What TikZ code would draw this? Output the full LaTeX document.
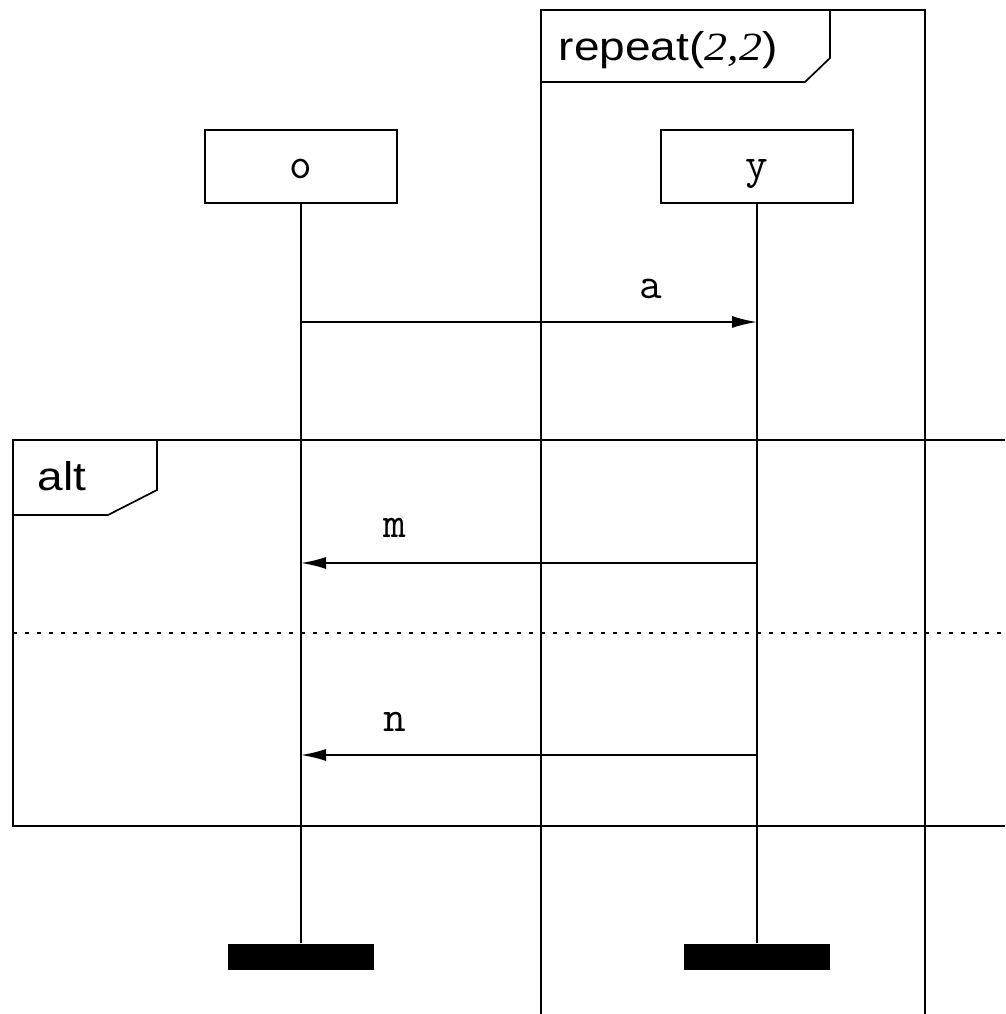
\documentclass[tikz,border=0pt]{standalone}
\usepackage{fontspec}
\usetikzlibrary{arrows.meta}
\newfontfamily\lblsans[FakeStretch=1.15]{Liberation Sans}
\newfontfamily\lblserif[FakeStretch=1.15]{Liberation Serif}
\tikzset{
  every picture/.style={line width=1.7pt},
  head/.style={draw, line width=1.7pt, minimum width=192pt, minimum height=73pt, inner sep=0pt,
    text depth=0pt, text height=0pt},
  headtxt/.style={anchor=base, inner sep=0pt, font=\ttfamily\fontsize{44}{46}\selectfont},
  endbar/.style={fill=black, draw=none, minimum width=146pt, minimum height=26pt, inner sep=0pt},
  lifeline/.style={line width=1.7pt},
  frame/.style={line width=1.7pt},
  msg/.style={line width=1.7pt, -{Latex[length=25pt,width=12pt]}},
  msglbl/.style={anchor=base, inner sep=0pt, font=\ttfamily\fontsize{44}{46}\selectfont},
  framelbl/.style={anchor=base west, inner sep=0pt, font=\lblsans\fontsize{40}{44}\selectfont},
  guard/.style={line width=1.7pt, dash pattern=on 4pt off 8pt}
}
\begin{document}
\begin{tikzpicture}[x=1pt,y=-1pt]
\useasboundingbox (0,0) rectangle (1005,1014);
% repeat frame
\draw[frame] (541,1014) -- (541,10) -- (925,10) -- (925,1014);
\draw[frame] (541,82) -- (805,82) -- (830,58) -- (830,10);
\node[framelbl] (replbl) at (558,61) {repeat({\lblserif\itshape 2,2})};
% alt frame
\draw[frame] (1005,440) -- (13,440) -- (13,826) -- (1005,826);
\draw[frame] (13,515) -- (108,515) -- (157,490) -- (157,440);
\node[framelbl] (altlbl) at (37,490) {alt};
\draw[guard] (13,633) -- (1005,633);
% lifelines
\node[head] (o) at (301,166.5) {};
\node[head] (y) at (757,166.5) {};
\node[headtxt] (otxt) at (301,178) {o};
\node[headtxt] (ytxt) at (757,178) {y};
\node[endbar] (oend) at (301,957) {};
\node[endbar] (yend) at (757,957) {};
\draw[lifeline] (o.south) -- (oend.north);
\draw[lifeline] (y.south) -- (yend.north);
% messages
\coordinate (a1) at (301,322);
\coordinate (a2) at (757,322);
\coordinate (m1) at (757,563);
\coordinate (m2) at (301,563);
\coordinate (n1) at (757,755);
\coordinate (n2) at (301,755);
\draw[msg] (a1) -- (a2);
\draw[msg] (m1) -- (m2);
\draw[msg] (n1) -- (n2);
\node[msglbl] (alab) at (651,298) {a};
\node[msglbl] (mlab) at (395,537) {m};
\node[msglbl] (nlab) at (395,731) {n};
\end{tikzpicture}
\end{document}
